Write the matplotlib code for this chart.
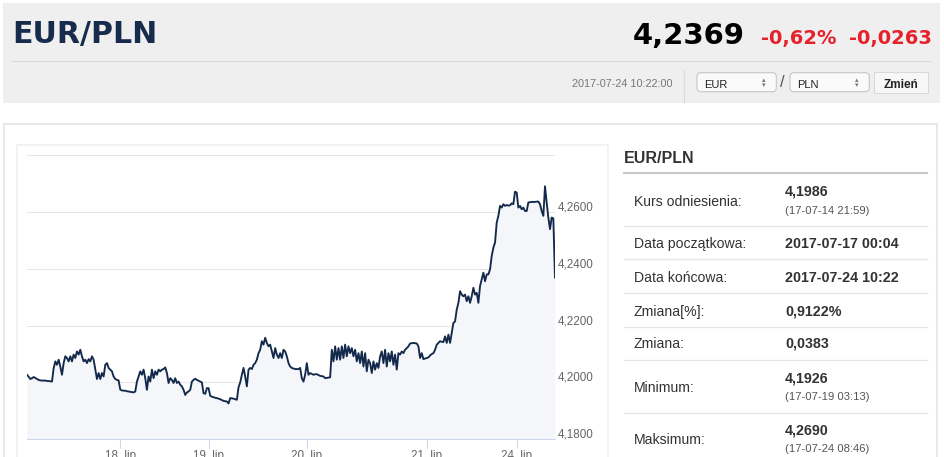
"""EUR/PLN quote panel: header, intraday line chart (ordinal axis) and summary table."""

import matplotlib.pyplot as plt
from matplotlib.patches import Rectangle, FancyBboxPatch
from matplotlib.transforms import ScaledTranslation
import numpy as np

plt.rcParams["font.family"] = ["Liberation Sans", "DejaVu Sans"]

NAVY = "#13294b"
RED = "#e5222b"
DARK = "#333333"
AXIS = "#ccd6eb"
GRID = "#e6e6e6"
OUT = "out.png"

# rate series, one list per trading day (ordinal axis: equally spaced points)
jul17 = [4.2027, 4.2020, 4.2012, 4.2015, 4.2019, 4.2016, 4.2012, 4.2009, 4.2007, 4.2007,
         4.2006, 4.2007, 4.2005, 4.2005, 4.2004, 4.2003, 4.2050, 4.2074, 4.2062, 4.2080,
         4.2056, 4.2027, 4.2068, 4.2092, 4.2086, 4.2074, 4.2092, 4.2074, 4.2098, 4.2086,
         4.2109, 4.2098, 4.2115, 4.2092, 4.2074, 4.2080, 4.2068, 4.2082, 4.2074, 4.2092,
         4.2080, 4.2045, 4.2012, 4.2033, 4.2012, 4.2033, 4.2021, 4.2062, 4.2068, 4.2051,
         4.2045, 4.2039, 4.2021, 4.2012, 4.2009, 4.2007]
jul18 = [4.1975, 4.1972, 4.1971, 4.1971, 4.1969, 4.1968, 4.1967, 4.1966, 4.1965, 4.1968,
         4.2003, 4.2021, 4.2039, 4.2027, 4.2045, 4.2015, 4.1974, 4.2021, 4.2003, 4.2045,
         4.2015, 4.2039, 4.2027, 4.2045, 4.2039, 4.2045, 4.2047, 4.2053, 4.2033, 4.1998,
         4.2015, 4.2009, 4.1998, 4.2015, 4.1998, 4.2003, 4.1992, 4.1986, 4.1974, 4.1956,
         4.1965, 4.1968, 4.1974, 4.2003, 4.2009, 4.2013, 4.2009, 4.2006, 4.2003, 4.2000,
         4.1962, 4.1960, 4.1980]
jul19 = [4.1980, 4.1953, 4.1950, 4.1948, 4.1946, 4.1945, 4.1943, 4.1941, 4.1938, 4.1935,
         4.1934, 4.1933, 4.1926, 4.1945, 4.1944, 4.1943, 4.1941, 4.1939, 4.1983, 4.2000,
         4.2027, 4.2051, 4.2021, 4.1986, 4.2045, 4.2051, 4.2047, 4.2062, 4.2068, 4.2080,
         4.2103, 4.2115, 4.2145, 4.2133, 4.2157, 4.2139, 4.2127, 4.2133, 4.2109, 4.2086,
         4.2121, 4.2098, 4.2086, 4.2103, 4.2086, 4.2115, 4.2109, 4.2092, 4.2068, 4.2056,
         4.2051, 4.2049, 4.2047, 4.2047, 4.2047, 4.2051, 4.2015, 4.2003, 4.2027]
jul20 = [4.2068, 4.2027, 4.2033, 4.2030, 4.2027, 4.2029, 4.2029, 4.2026, 4.2023, 4.2022,
         4.2021, 4.2015, 4.2016, 4.2017, 4.2018, 4.2115, 4.2074, 4.2127, 4.2080, 4.2121,
         4.2080, 4.2127, 4.2086, 4.2133, 4.2092, 4.2127, 4.2103, 4.2121, 4.2092, 4.2115,
         4.2074, 4.2103, 4.2068, 4.2109, 4.2056, 4.2103, 4.2039, 4.2080, 4.2068, 4.2033,
         4.2074, 4.2045, 4.2068, 4.2051, 4.2092, 4.2109, 4.2068, 4.2115, 4.2056, 4.2103,
         4.2074, 4.2109, 4.2062, 4.2098, 4.2045, 4.2103, 4.2098, 4.2109, 4.2103, 4.2115,
         4.2121, 4.2127, 4.2137, 4.2138, 4.2139, 4.2138, 4.2137, 4.2127, 4.2086, 4.2103,
         4.2082, 4.2084]
jul21 = [4.2086, 4.2088, 4.2095, 4.2100, 4.2103, 4.2115, 4.2133, 4.2139, 4.2145, 4.2143,
         4.2142, 4.2162, 4.2139, 4.2168, 4.2139, 4.2174, 4.2209, 4.2215, 4.2256, 4.2280,
         4.2321, 4.2309, 4.2303, 4.2309, 4.2286, 4.2303, 4.2280, 4.2303, 4.2333, 4.2309,
         4.2315, 4.2280, 4.2339, 4.2362, 4.2386, 4.2356, 4.2380, 4.2380, 4.2398, 4.2445,
         4.2474, 4.2492, 4.2562, 4.2586, 4.2621, 4.2615, 4.2627, 4.2621, 4.2624, 4.2622,
         4.2623, 4.2630, 4.2627, 4.2671]
jul24 = [4.2668, 4.2615, 4.2621, 4.2609, 4.2615, 4.2603, 4.2603, 4.2633, 4.2634, 4.2635,
         4.2635, 4.2635, 4.2636, 4.2636, 4.2627, 4.2603, 4.2586, 4.2690, 4.2633, 4.2580,
         4.2539, 4.2580, 4.2577, 4.2369]

days = [jul17, jul18, jul19, jul20, jul21, jul24]
day_labels = ["18. lip", "19. lip", "20. lip", "21. lip", "24. lip"]
y_ticks = [4.18, 4.20, 4.22, 4.24, 4.26, 4.28]

pair = "EUR/PLN"
last = "4,2369"
chg_pct = "-0,62%"
chg_abs = "-0,0263"
stamp = "2017-07-24 10:22:00"

rows = [
    ("Kurs odniesienia:", "4,1986", "(17-07-14 21:59)"),
    ("Data początkowa:", "2017-07-17 00:04", None),
    ("Data końcowa:", "2017-07-24 10:22", None),
    ("Zmiana[%]:", "0,9122%", None),
    ("Zmiana:", "0,0383", None),
    ("Minimum:", "4,1926", "(17-07-19 03:13)"),
    ("Maksimum:", "4,2690", "(17-07-24 08:46)"),
]

rates = np.concatenate(days)
x = np.arange(len(rates))
day_starts = np.cumsum([len(d) for d in days])[:-1]

fig = plt.figure(figsize=(9.45, 4.57), dpi=100)

# page layer in pixel units (y down)
bg = fig.add_axes([0, 0, 1, 1], zorder=0)
bg.set_xlim(0, 945)
bg.set_ylim(457, 0)
bg.axis("off")

# header bar
bg.add_patch(Rectangle((3, 3), 937, 100, facecolor="#efefef", edgecolor="none"))
bg.plot([12, 930], [61, 61], color="#d9d9d9", lw=0.8)
bg.plot([684, 684], [70, 103], color="#dcdcdc", lw=0.8)
bg.text(12, 43.5, pair, fontsize=21.6, fontweight="bold", color="#172b4d",
        family="DejaVu Sans", va="baseline")
bg.text(745, 43.5, last, fontsize=20.9, fontweight="bold", color="black",
        family="DejaVu Sans", ha="right", va="baseline")
bg.text(836, 44, chg_pct, fontsize=14, fontweight="bold", color=RED,
        family="DejaVu Sans", ha="right", va="baseline")
bg.text(932, 44, chg_abs, fontsize=14, fontweight="bold", color=RED,
        family="DejaVu Sans", ha="right", va="baseline")
bg.text(673, 87, stamp, fontsize=7.8, color="#777777", ha="right", va="baseline")

for x0, cur in [(697, "EUR"), (790, "PLN")]:
    bg.add_patch(FancyBboxPatch((x0, 72.7), 79.3, 19,
                                boxstyle="round,pad=0,rounding_size=4",
                                facecolor="#fafafa", edgecolor="#c6c6c6", lw=0.8))
    bg.text(x0 + 7.5, 87.5, cur, fontsize=8, color="#222222", va="baseline")
    bg.text(x0 + 66.5, 80.5, "▴", fontsize=5, color="#777777",
            family="DejaVu Sans", ha="center", va="center")
    bg.text(x0 + 66.5, 85, "▾", fontsize=5, color="#777777",
            family="DejaVu Sans", ha="center", va="center")
bg.text(782, 82.5, "/", fontsize=12, color="#555555", ha="center", va="center")
bg.add_patch(Rectangle((874, 71.7), 53.7, 21.6, facecolor="#f7f7f7",
                       edgecolor="#d8d8d8", lw=0.7))
bg.text(901, 88.5, "Zmień", fontsize=8.5, fontweight="bold", color="#222222",
        ha="center", va="baseline")

# content panel and chart frame
bg.add_patch(Rectangle((3.5, 123.5), 933, 345, facecolor="white",
                       edgecolor="#e8e8e8", lw=1.5))
bg.add_patch(Rectangle((17, 144.5), 591, 330, facecolor="white",
                       edgecolor="#efefef", lw=1.1))

# summary table
bg.text(624, 163.3, pair, fontsize=11.5, fontweight="bold", color=DARK, va="baseline")
bg.plot([624, 927], [173.3, 173.3], color="#c8c8c8", lw=1.5)
label_base = [206, 248.3, 282.3, 316, 348.3, 392.3, 444.3]
value_base = [196, 247.7, 281.7, 315.7, 347.7, 382.3, 434.3]
seps = [225.7, 259.3, 293.3, 327.3, 360, 412.7]
for (lab, val, sub), yl, yv in zip(rows, label_base, value_base):
    bg.text(634, yl, lab, fontsize=10.1, color=DARK, va="baseline")
    bg.text(785, yv, val, fontsize=10.3, fontweight="bold", color=DARK, va="baseline")
    if sub:
        bg.text(785, yv + 18, sub, fontsize=8.1, color="#555555", va="baseline")
for ys in seps:
    bg.plot([624, 927], [ys, ys], color="#e6e6e6", lw=0.9)

# chart
ax = fig.add_axes([27 / 945, 17.7 / 457, 528 / 945, 284.3 / 457], zorder=2)
ax.patch.set_visible(False)
ax.fill_between(x, rates, y_ticks[0], color="#f4f6f9", lw=0)
ax.plot(x, rates, color=NAVY, lw=1.35, solid_joinstyle="round")
ax.set_xlim(x[0], x[-1])
ax.set_ylim(y_ticks[0], y_ticks[-1])

ax.set_yticks(y_ticks)
ax.set_yticklabels([f"{v:.4f}".replace(".", ",") for v in y_ticks[:-1]] + [""])
ax.yaxis.tick_right()
ax.tick_params(axis="y", length=0, pad=2.2, labelsize=8.4, labelcolor="#666666")
shift = ScaledTranslation(0, 6 / 100, fig.dpi_scale_trans)
for lab in ax.get_yticklabels():
    lab.set_transform(lab.get_transform() + shift)
ax.grid(axis="y", color=GRID, lw=0.75)
ax.set_axisbelow(True)

ax.set_xticks(day_starts)
ax.set_xticklabels(day_labels)
ax.tick_params(axis="x", length=6.5, width=0.75, color=AXIS, labelcolor="#666666",
               labelsize=8.4, pad=1.5)

for side in ["top", "left", "right"]:
    ax.spines[side].set_visible(False)
ax.spines["bottom"].set_color(AXIS)
ax.spines["bottom"].set_linewidth(0.75)

fig.savefig(OUT, dpi=100, facecolor="white")
